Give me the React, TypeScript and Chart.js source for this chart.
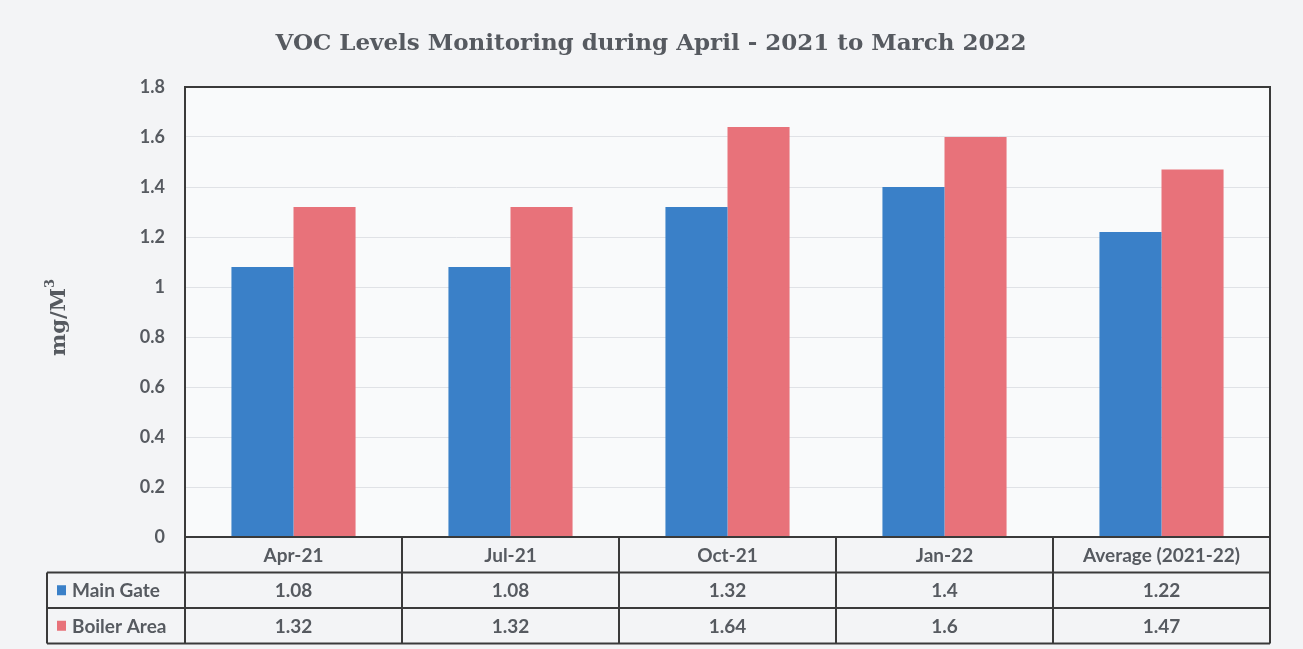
import React, { useEffect, useRef } from "react";
import { Chart, registerables } from "chart.js";

Chart.register(...registerables);

const chartTitle = "VOC Levels Monitoring during April - 2021 to March 2022";
const yAxisTitle = "mg/M";
const categories = ["Apr-21", "Jul-21", "Oct-21", "Jan-22", "Average (2021-22)"];
const mainGate = [1.08, 1.08, 1.32, 1.4, 1.22];
const boilerArea = [1.32, 1.32, 1.64, 1.6, 1.47];
const seriesNames = ["Main Gate", "Boiler Area"];
const seriesColors = ["#3a80c8", "#e8727a"];

const TEXT = "#565a60";
const LINE = "#3a3a3a";

const decorPlugin = {
  id: "decor",
  beforeDraw(chart: any) {
    const { ctx, chartArea } = chart;
    ctx.save();
    ctx.fillStyle = "#f3f4f6";
    ctx.fillRect(0, 0, chart.width, chart.height);
    ctx.fillStyle = "#f9fafb";
    ctx.fillRect(chartArea.left, chartArea.top, chartArea.right - chartArea.left, chartArea.bottom - chartArea.top);
    ctx.restore();
  },
  afterDraw(chart: any) {
    const { ctx, chartArea } = chart;
    const xs = chart.scales.x;
    const n = categories.length;
    const catW = (xs.right - xs.left) / n;
    const bounds: number[] = [];
    for (let i = 0; i < n; i++) bounds.push(xs.getPixelForValue(i) - catW / 2);
    bounds.push(xs.getPixelForValue(n - 1) + catW / 2);
    ctx.save();
    // title
    ctx.fillStyle = TEXT;
    ctx.font = "bold 23px 'DejaVu Serif'";
    ctx.textAlign = "center";
    ctx.textBaseline = "middle";
    ctx.fillText(chartTitle, 651, 44);
    // y title
    ctx.save();
    ctx.translate(60, 316);
    ctx.rotate(-Math.PI / 2);
    ctx.font = "bold 21px 'DejaVu Serif'";
    const w = ctx.measureText(yAxisTitle).width;
    ctx.textAlign = "left";
    ctx.fillText(yAxisTitle, -w / 2 - 6, 0);
    ctx.font = "bold 13px 'DejaVu Serif'";
    ctx.fillText("3", w / 2 - 6, -9);
    ctx.restore();
    // plot border
    ctx.strokeStyle = LINE;
    ctx.lineWidth = 2;
    ctx.strokeRect(chartArea.left, chartArea.top, chartArea.right - chartArea.left, chartArea.bottom - chartArea.top);
    // table
    const top = chartArea.bottom;
    const rowH = 35.5;
    const legendLeft = 47;
    const right = bounds[n];
    ctx.beginPath();
    for (let i = 0; i <= n; i++) {
      ctx.moveTo(bounds[i], top);
      ctx.lineTo(bounds[i], top + rowH * 3);
    }
    for (let r = 1; r <= 3; r++) {
      ctx.moveTo(legendLeft, top + rowH * r);
      ctx.lineTo(right, top + rowH * r);
    }
    ctx.moveTo(legendLeft, top + rowH);
    ctx.lineTo(legendLeft, top + rowH * 3);
    ctx.stroke();
    ctx.font = "bold 19px Lato";
    ctx.fillStyle = TEXT;
    ctx.textAlign = "center";
    for (let i = 0; i < n; i++) {
      const cx = (bounds[i] + bounds[i + 1]) / 2;
      ctx.fillText(categories[i], cx, top + rowH * 0.5 + 1);
      ctx.fillText(String(mainGate[i]), cx, top + rowH * 1.5 + 1);
      ctx.fillText(String(boilerArea[i]), cx, top + rowH * 2.5 + 1);
    }
    ctx.textAlign = "left";
    for (let s = 0; s < 2; s++) {
      const cy = top + rowH * (1.5 + s);
      ctx.fillStyle = seriesColors[s];
      ctx.fillRect(legendLeft + 10, cy - 5, 9, 10);
      ctx.fillStyle = TEXT;
      ctx.fillText(seriesNames[s], legendLeft + 25, cy + 1);
    }
    ctx.restore();
  },
};

export default function App() {
  const ref = useRef<HTMLCanvasElement | null>(null);
  useEffect(() => {
    if (!ref.current) return;
    const chart = new Chart(ref.current, {
      type: "bar",
      data: {
        labels: categories,
        datasets: [
          { label: seriesNames[0], data: mainGate, backgroundColor: seriesColors[0] },
          { label: seriesNames[1], data: boilerArea, backgroundColor: seriesColors[1] },
        ],
      },
      options: {
        animation: false,
        responsive: false,
        devicePixelRatio: 1,
        layout: { padding: { left: 0, right: 33, top: 87, bottom: 112 } },
        datasets: { bar: { categoryPercentage: 0.572, barPercentage: 1 } },
        plugins: { legend: { display: false }, title: { display: false }, tooltip: { enabled: false } },
        scales: {
          x: {
            ticks: { display: false },
            grid: { display: false },
            border: { display: false },
            afterFit: (s: any) => { s.height = 0; },
          },
          y: {
            min: 0,
            max: 1.8,
            ticks: {
              stepSize: 0.2,
              padding: 20,
              color: TEXT,
              font: { family: "Lato", weight: "bold", size: 18 },
              callback: (v: any) => String(Number(Number(v).toFixed(1))),
            },
            grid: { color: "#e0e2e6", drawTicks: false, lineWidth: 1 },
            border: { display: false },
            afterFit: (s: any) => { s.width = 185; },
          },
        },
      },
      plugins: [decorPlugin],
    } as any);
    return () => chart.destroy();
  }, []);
  return (
    <div style={{ position: "fixed", left: 0, top: 0, width: 1303, height: 649, background: "#f3f4f6" }}>
      <canvas ref={ref} width={1303} height={649} style={{ width: 1303, height: 649, display: "block" }} />
    </div>
  );
}
